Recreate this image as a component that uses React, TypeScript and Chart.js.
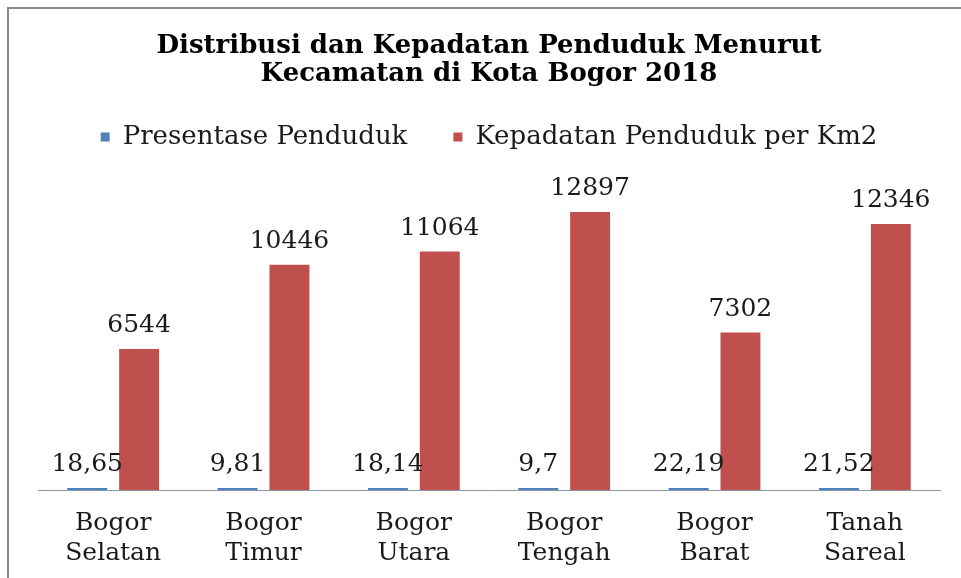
import React, { useEffect, useRef } from "react";
import { Chart, registerables } from "chart.js";

Chart.register(...registerables);

const categories: string[][] = [
  ["Bogor", "Selatan"],
  ["Bogor", "Timur"],
  ["Bogor", "Utara"],
  ["Bogor", "Tengah"],
  ["Bogor", "Barat"],
  ["Tanah", "Sareal"],
];
const presentasePenduduk: number[] = [18.65, 9.81, 18.14, 9.7, 22.19, 21.52];
const kepadatanPenduduk: number[] = [6544, 10446, 11064, 12897, 7302, 12346];
const seriesNames: string[] = ["Presentase Penduduk", "Kepadatan Penduduk per Km2"];
const titleLines: string[] = [
  "Distribusi dan Kepadatan Penduduk Menurut",
  "Kecamatan di Kota Bogor 2018",
];
const yMax = 15310;

const SERIF = '"DejaVu Serif", serif';

const valueLabels = {
  id: "valueLabels",
  afterDatasetsDraw(chart: any) {
    const ctx = chart.ctx;
    ctx.save();
    ctx.font = `25px ${SERIF}`;
    ctx.fillStyle = "#1a1a1a";
    ctx.textAlign = "center";
    ctx.textBaseline = "alphabetic";
    chart.data.datasets.forEach((ds: any, di: number) => {
      const meta = chart.getDatasetMeta(di);
      meta.data.forEach((el: any, i: number) => {
        const txt = String(ds.data[i]).replace(".", ",");
        ctx.fillText(txt, el.x, el.y - 17);
      });
    });
    ctx.restore();
  },
};

export default function App() {
  const ref = useRef<HTMLCanvasElement | null>(null);
  useEffect(() => {
    if (!ref.current) return;
    const chart = new Chart(ref.current, {
      type: "bar",
      data: {
        labels: categories,
        datasets: [
          {
            label: seriesNames[0],
            data: presentasePenduduk,
            backgroundColor: "#4F81BD",
            minBarLength: 2,
          },
          {
            label: seriesNames[1],
            data: kepadatanPenduduk,
            backgroundColor: "#C0504D",
          },
        ],
      },
      options: {
        responsive: false,
        animation: false,
        devicePixelRatio: 1,
        datasets: {
          bar: { categoryPercentage: 0.69, barPercentage: 0.77 },
        },
        layout: { padding: { left: 38, right: 21, top: 0, bottom: -8 } },
        plugins: {
          title: {
            display: true,
            text: titleLines,
            color: "#000",
            font: { family: SERIF, size: 26, weight: "bold", lineHeight: 28 / 26 },
            padding: { top: 32, bottom: -10 },
          },
          legend: {
            display: true,
            position: "top",
            labels: {
              boxWidth: 9,
              boxHeight: 9,
              padding: 46,
              color: "#1a1a1a",
              font: { family: SERIF, size: 26 },
            },
          },
          tooltip: { enabled: false },
        },
        scales: {
          x: {
            grid: { display: false, drawTicks: false },
            border: { display: true, color: "#8C96A8", width: 1 },
            ticks: {
              color: "#1a1a1a",
              padding: 18,
              font: { family: SERIF, size: 25, lineHeight: 1.2 },
              maxRotation: 0,
              autoSkip: false,
            },
          },
          y: {
            display: false,
            min: 0,
            max: yMax,
          },
        },
      },
      plugins: [valueLabels],
    });
    return () => chart.destroy();
  }, []);

  return (
    <div style={{ position: "fixed", left: 0, top: 0, width: 961, height: 578, background: "#fff" }}>
      <div
        style={{
          position: "absolute",
          left: 7,
          top: 7,
          right: 0,
          bottom: 0,
          borderLeft: "2px solid #8a8a8a",
          borderTop: "2px solid #8a8a8a",
        }}
      />
      <canvas ref={ref} width={961} height={578} style={{ position: "absolute", left: 0, top: 0 }} />
    </div>
  );
}
